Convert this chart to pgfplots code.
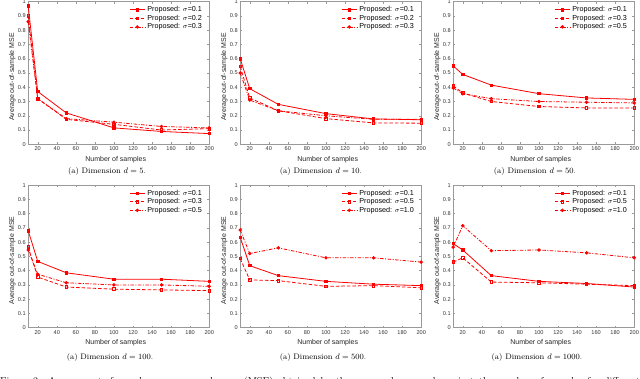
\documentclass[border=0pt]{standalone}
\usepackage{fontspec}
\usepackage{pgfplots}
\pgfplotsset{compat=1.18}
\newfontfamily\arial{Liberation Sans}
\newcommand{\tickfont}{\arial\fontsize{5.6}{6}\selectfont}
\newcommand{\labfont}{\arial\fontsize{7}{8}\selectfont}

\pgfplotsset{
  mse/.style={
    scale only axis, width=181pt, height=142.6pt,
    anchor=south west, clip=false,
    xmin=10, xmax=200, ymin=0, ymax=1,
    xtick={20,40,...,200},
    ytick={0,0.1,0.2,0.3,0.4,0.5,0.6,0.7,0.8,0.9,1},
    tick align=inside, tick pos=both, major tick length=2pt,
    axis line style={black!40, line width=0.4pt},
    every tick/.style={black!40, line width=0.4pt},
    /pgf/number format/assume math mode=true,
    xticklabel style={font=\tickfont, color=black!80, yshift=1pt},
    yticklabel style={font=\tickfont, color=black!80, xshift=1pt},
    xlabel={Number of samples},
    ylabel={Average out-of-sample MSE},
    every axis x label/.style={at={(axis description cs:0.5,0)}, yshift=-15pt, xshift=-3pt, anchor=center, font=\labfont, color=black!85},
    every axis y label/.style={at={(axis description cs:0,0.5)}, xshift=-16pt, yshift=-4pt, rotate=90, anchor=center, font=\labfont, color=black!85},
    legend style={draw=none, fill=none, at={(0.975,0.985)}, anchor=north east,
      font=\arial\fontsize{7.2}{8}\selectfont, row sep=-2.2pt, inner sep=0.5pt},
    legend cell align=left,
    legend image code/.code={\draw[mark repeat=2,mark phase=2,##1] plot coordinates {(0cm,0cm) (0.27cm,0cm) (0.54cm,0cm)};},
  },
  s1/.style={red, solid, line width=0.8pt, mark=square*, mark size=1.2pt, mark options={solid}},
  s2/.style={red, line width=0.8pt, dash pattern=on 3.5pt off 2pt, mark=square, mark size=1.3pt, mark options={solid, fill=white}},
  s3/.style={red, line width=0.8pt, dash pattern=on 3.5pt off 1.5pt on 1pt off 1.5pt, mark=*, mark size=1.3pt, mark options={solid}},
}

\begin{document}
\begin{tikzpicture}[x=1pt,y=1pt]
\path[use as bounding box] (0,0) rectangle (640,379);

% row 1
\begin{axis}[mse, at={(28.2pt,234.7pt)}]
\addplot[s1] coordinates {(10,0.97) (20,0.37) (50,0.22) (100,0.115) (150,0.09) (200,0.075)};
\addplot[s2] coordinates {(10,0.90) (20,0.32) (50,0.175) (100,0.14) (150,0.10) (200,0.11)};
\addplot[s3] coordinates {(10,0.86) (20,0.32) (50,0.18) (100,0.155) (150,0.125) (200,0.115)};
\legend{Proposed: $\sigma$=0.1, Proposed: $\sigma$=0.2, Proposed: $\sigma$=0.3}
\end{axis}

\begin{axis}[mse, at={(240.2pt,234.7pt)}]
\addplot[s1] coordinates {(10,0.60) (20,0.39) (50,0.28) (100,0.215) (150,0.178) (200,0.172)};
\addplot[s2] coordinates {(10,0.545) (20,0.325) (50,0.235) (100,0.18) (150,0.15) (200,0.148)};
\addplot[s3] coordinates {(10,0.50) (20,0.31) (50,0.235) (100,0.20) (150,0.175) (200,0.175)};
\legend{Proposed: $\sigma$=0.1, Proposed: $\sigma$=0.2, Proposed: $\sigma$=0.3}
\end{axis}

\begin{axis}[mse, at={(453.2pt,234.7pt)}]
\addplot[s1] coordinates {(10,0.55) (20,0.49) (50,0.415) (100,0.355) (150,0.325) (200,0.315)};
\addplot[s2] coordinates {(10,0.41) (20,0.36) (50,0.30) (100,0.265) (150,0.255) (200,0.255)};
\addplot[s3] coordinates {(10,0.395) (20,0.355) (50,0.32) (100,0.30) (150,0.295) (200,0.29)};
\legend{Proposed: $\sigma$=0.1, Proposed: $\sigma$=0.3, Proposed: $\sigma$=0.5}
\end{axis}

% row 2
\begin{axis}[mse, at={(28.2pt,51.3pt)}]
\addplot[s1] coordinates {(10,0.68) (20,0.465) (50,0.385) (100,0.34) (150,0.34) (200,0.325)};
\addplot[s2] coordinates {(10,0.565) (20,0.355) (50,0.285) (100,0.27) (150,0.265) (200,0.26)};
\addplot[s3] coordinates {(10,0.545) (20,0.375) (50,0.315) (100,0.30) (150,0.30) (200,0.29)};
\legend{Proposed: $\sigma$=0.1, Proposed: $\sigma$=0.3, Proposed: $\sigma$=0.5}
\end{axis}

\begin{axis}[mse, at={(240.2pt,51.3pt)}]
\addplot[s1] coordinates {(10,0.635) (20,0.435) (50,0.365) (100,0.325) (150,0.305) (200,0.295)};
\addplot[s2] coordinates {(10,0.485) (20,0.335) (50,0.33) (100,0.29) (150,0.295) (200,0.28)};
\addplot[s3] coordinates {(10,0.685) (20,0.52) (50,0.56) (100,0.49) (150,0.49) (200,0.46)};
\legend{Proposed: $\sigma$=0.1, Proposed: $\sigma$=0.5, Proposed: $\sigma$=1.0}
\end{axis}

\begin{axis}[mse, at={(453.2pt,51.3pt)}]
\addplot[s1] coordinates {(10,0.59) (20,0.545) (50,0.365) (100,0.325) (150,0.31) (200,0.285)};
\addplot[s2] coordinates {(10,0.46) (20,0.49) (50,0.32) (100,0.315) (150,0.305) (200,0.295)};
\addplot[s3] coordinates {(10,0.565) (20,0.715) (50,0.54) (100,0.545) (150,0.525) (200,0.49)};
\legend{Proposed: $\sigma$=0.1, Proposed: $\sigma$=0.5, Proposed: $\sigma$=1.0}
\end{axis}

% sub-captions
\begin{scope}[every node/.style={font=\fontsize{8}{9.6}\selectfont, inner sep=0pt}]
\node at (107,207) {(a) Dimension $d=5$.};
\node at (321,207) {(a) Dimension $d=10$.};
\node at (535,207) {(a) Dimension $d=50$.};
\node at (110,21.4) {(a) Dimension $d=100$.};
\node at (323,21.4) {(a) Dimension $d=500$.};
\node at (537,21.4) {(a) Dimension $d=1000$.};
\end{scope}

% figure caption, cut by the page edge as in the source
\node[anchor=north west, inner sep=0pt, text width=640pt, align=justify, font=\fontsize{10}{12}\selectfont] at (0,2.5)
  {Figure 2: Average out-of-sample mean squared error (MSE) obtained by the proposed approach against the number of samples for different dimensions $d$ and noise levels $\sigma$ of the data.};
\end{tikzpicture}
\end{document}
